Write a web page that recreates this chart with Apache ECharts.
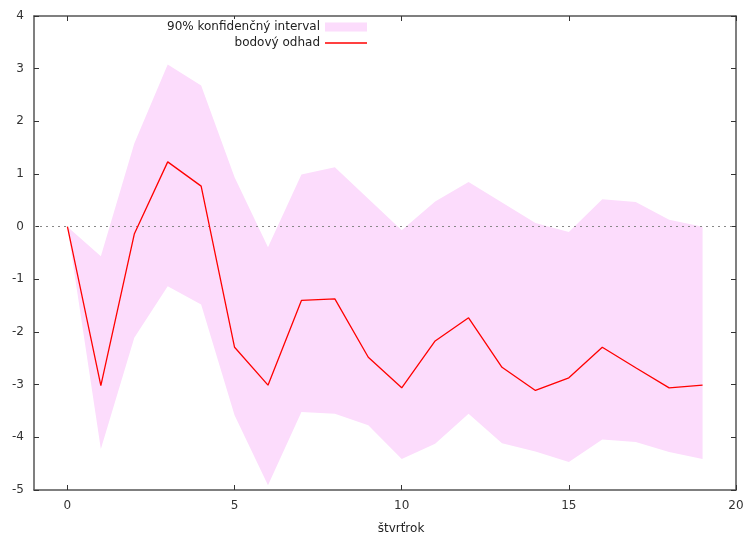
<!DOCTYPE html>
<html>
<head>
<meta charset="utf-8">
<script src="https://cdn.jsdelivr.net/npm/echarts@6/dist/echarts.min.js"></script>
<style>
  html, body { margin: 0; padding: 0; background: #fff; }
  #chart { width: 747px; height: 534px; }
</style>
</head>
<body>
<div id="chart"></div>
<script>
// quarters 0..19
const quarters = [0, 1, 2, 3, 4, 5, 6, 7, 8, 9, 10, 11, 12, 13, 14, 15, 16, 17, 18, 19]
const pointEst = [0, -3.02, -0.14, 1.23, 0.77, -2.29, -3.01, -1.40, -1.37, -2.48,
  -3.06, -2.17, -1.73, -2.67, -3.11, -2.87, -2.29, -2.68, -3.06, -3.01]
const upperBand = [0, -0.56, 1.58, 3.08, 2.68, 0.94, -0.39, 0.99, 1.13, 0.53,
  -0.07, 0.48, 0.85, 0.46, 0.07, -0.10, 0.52, 0.47, 0.13, 0.0]
const lowerBand = [0, -4.22, -2.11, -1.13, -1.48, -3.58, -4.91, -3.52, -3.55, -3.77,
  -4.41, -4.12, -3.55, -4.11, -4.27, -4.47, -4.04, -4.09, -4.28, -4.41]
const xTicks = [0, 5, 10, 15, 20]

const bandColor = '#fcdcfc'
const axisColor = '#555'
const font = 'DejaVu Sans'

let myChart = echarts.init(document.getElementById('chart'))

let bandData = quarters.map((q, i) => [q, lowerBand[i], upperBand[i]])
let lineData = quarters.map((q, i) => [q, pointEst[i]])

// whole band as one polygon: lower edge forward, upper edge back
function renderBand(params, api) {
  if (params.dataIndex !== 0) return null
  let pts = []
  bandData.forEach(d => pts.push(api.coord([d[0], d[1]])))
  for (let i = bandData.length - 1; i >= 0; i--) {
    pts.push(api.coord([bandData[i][0], bandData[i][2]]))
  }
  return {
    type: 'polygon',
    shape: {points: pts},
    style: {fill: bandColor}
  }
}

let xCommon = {
  type: 'value',
  min: -1,
  max: 20,
  axisLine: {onZero: false, lineStyle: {color: axisColor, width: 1.5}},
  axisTick: {inside: true, length: 5, customValues: xTicks, lineStyle: {color: '#333'}},
  splitLine: {show: false}
}
let yCommon = {
  type: 'value',
  min: -5,
  max: 4,
  interval: 1,
  axisLine: {show: true, onZero: false, lineStyle: {color: axisColor, width: 1.5}},
  axisTick: {show: true, inside: true, length: 5, lineStyle: {color: '#333'}},
  splitLine: {show: false}
}

let option = {
  animation: false,
  textStyle: {fontFamily: font},
  grid: {left: 34, right: 11, top: 16, bottom: 44, containLabel: false, outerBoundsMode: 'none'},
  legend: {
    orient: 'vertical',
    align: 'right',
    right: 380,
    top: 19,
    itemWidth: 42,
    itemHeight: 9,
    itemGap: 4,
    backgroundColor: '#fff',
    padding: [2, 0, 2, 4],
    textStyle: {fontFamily: font, fontSize: 12, color: '#222'},
    data: [
      {name: '90% konfidenčný interval', icon: 'rect', itemStyle: {color: bandColor}},
      {name: 'bodový odhad', icon: 'path://M0,0 L42,0 L42,1.3 L0,1.3 Z', itemStyle: {color: '#f00'}}
    ]
  },
  xAxis: [
    Object.assign({}, xCommon, {
      position: 'bottom',
      name: 'štvrťrok',
      nameLocation: 'middle',
      nameGap: 33,
      nameTextStyle: {fontSize: 12, color: '#222', padding: [0, 0, 0, 32]},
      axisLabel: {customValues: xTicks, fontSize: 12, color: '#333', margin: 10}
    }),
    Object.assign({}, xCommon, {
      position: 'top',
      axisLabel: {show: false, customValues: xTicks}
    })
  ],
  yAxis: [
    Object.assign({}, yCommon, {
      position: 'left',
      axisLabel: {fontSize: 12, color: '#333', margin: 10}
    }),
    Object.assign({}, yCommon, {
      position: 'right',
      axisLabel: {show: false}
    })
  ],
  series: [
    {
      name: '90% konfidenčný interval',
      type: 'custom',
      renderItem: renderBand,
      data: bandData,
      encode: {x: 0, y: [1, 2]},
      itemStyle: {color: bandColor},
      silent: true,
      z: 1
    },
    {
      name: 'bodový odhad',
      type: 'line',
      data: lineData,
      symbol: 'none',
      z: 5,
      lineStyle: {color: '#f00', width: 1.3},
      itemStyle: {color: '#f00'},
      markLine: {
        silent: true,
        symbol: 'none',
        label: {show: false},
        lineStyle: {color: '#888', type: [2, 4], width: 1},
        data: [{yAxis: 0}]
      }
    }
  ]
}
myChart.setOption(option)
</script>
</body>
</html>
